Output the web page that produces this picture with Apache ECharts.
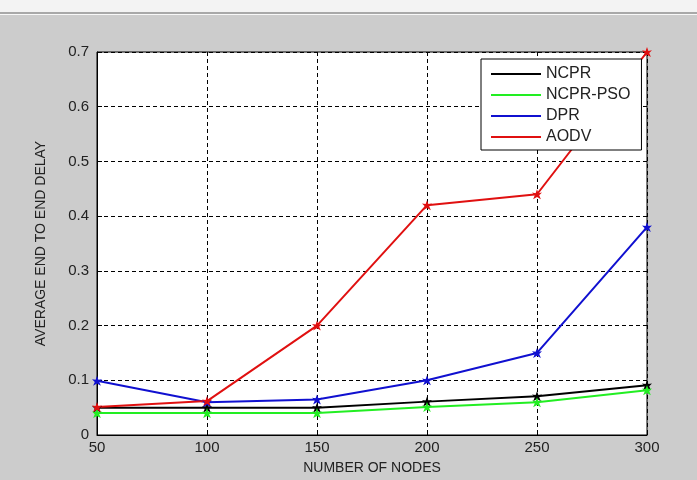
<!DOCTYPE html>
<html><head><meta charset="utf-8">
<script src="https://cdn.jsdelivr.net/npm/echarts@6/dist/echarts.min.js"></script>
<style>html,body{margin:0;padding:0;background:#cccccc;}#c{width:697px;height:480px;}</style>
</head><body><div id="c"></div>
<script>
var categories = [50, 100, 150, 200, 250, 300];
var ncpr    = [0.05, 0.05, 0.05, 0.061, 0.071, 0.091];
var ncprPso = [0.04, 0.04, 0.04, 0.051, 0.06, 0.082];
var dpr     = [0.099, 0.06, 0.065, 0.1, 0.15, 0.38];
var aodv    = [0.051, 0.062, 0.2, 0.42, 0.44, 0.7];
var seriesNames = ['NCPR', 'NCPR-PSO', 'DPR', 'AODV'];
var seriesColors = ['#000000', '#22ee22', '#1010d0', '#e01010'];
var xLabel = 'NUMBER OF NODES';
var yLabel = 'AVERAGE END TO END DELAY';

var star = 'path://M0,-10 L2.5,-3 L9,-4 L4,1 L7,8 L0,4 L-7,8 L-4,1 L-9,-4 L-2.5,-3 Z';
function pairs(v){ return categories.map(function(c,i){ return [c, v[i]]; }); }
var datas = [ncpr, ncprPso, dpr, aodv];
var font = '"Liberation Sans", Arial, sans-serif';

var chart = echarts.init(document.getElementById('c'));
chart.setOption({
  backgroundColor: '#cccccc',
  animation: false,
  graphic: [
    {type:'rect', shape:{x:0,y:0,width:697,height:12}, style:{fill:'#f3f3f3'}, z:-1},
    {type:'rect', shape:{x:0,y:12,width:697,height:2}, style:{fill:'#a8a8a8'}, z:-1},
    {type:'rect', shape:{x:0,y:14,width:697,height:1}, style:{fill:'#f8f8f8'}, z:-1}
  ],
  grid: {left: 97, right: 50, top: 52, bottom: 43, show: true, backgroundColor: '#ffffff', borderColor: '#000', borderWidth: 1},
  legend: {
    data: seriesNames,
    orient: 'vertical',
    left: 481, top: 59, width: 160,
    padding: [7, 11, 5, 10],
    itemGap: 5,
    itemWidth: 50, itemHeight: 15,
    backgroundColor: '#ffffff',
    borderColor: '#000', borderWidth: 1,
    textStyle: {fontFamily: font, fontSize: 16, color: '#222'},
    icon: 'path://M0,6 L50,6 L50,8 L0,8 Z'
  },
  xAxis: {
    type: 'value', min: 50, max: 300, interval: 50,
    name: xLabel, nameLocation: 'middle', nameGap: 26,
    nameTextStyle: {fontFamily: font, fontSize: 14, color: '#222'},
    axisLine: {show: true, lineStyle: {color: '#000'}},
    axisTick: {show: true, inside: true, length: 5, lineStyle: {color: '#000'}},
    axisLabel: {fontFamily: font, fontSize: 15, color: '#222', margin: 5},
    splitLine: {show: true, lineStyle: {color: '#000', type: [4, 3], width: 1}}
  },
  yAxis: {
    type: 'value', min: 0, max: 0.7, interval: 0.1,
    name: yLabel, nameLocation: 'middle', nameGap: 49,
    nameTextStyle: {fontFamily: font, fontSize: 14, color: '#222'},
    axisLine: {show: true, lineStyle: {color: '#000'}},
    axisTick: {show: true, inside: true, length: 5, lineStyle: {color: '#000'}},
    axisLabel: {fontFamily: font, fontSize: 15, color: '#222', margin: 8, formatter: function(v){ return v === 0 ? '0' : v.toFixed(1); }},
    splitLine: {show: true, lineStyle: {color: '#000', type: [4, 3], width: 1}}
  },
  series: seriesNames.map(function(n, i){
    return {
      name: n, type: 'line', data: pairs(datas[i]),
      symbol: star, symbolSize: 10, showAllSymbol: true,
      lineStyle: {color: seriesColors[i], width: 2},
      itemStyle: {color: seriesColors[i]},
      clip: false
    };
  })
});
</script></body></html>
